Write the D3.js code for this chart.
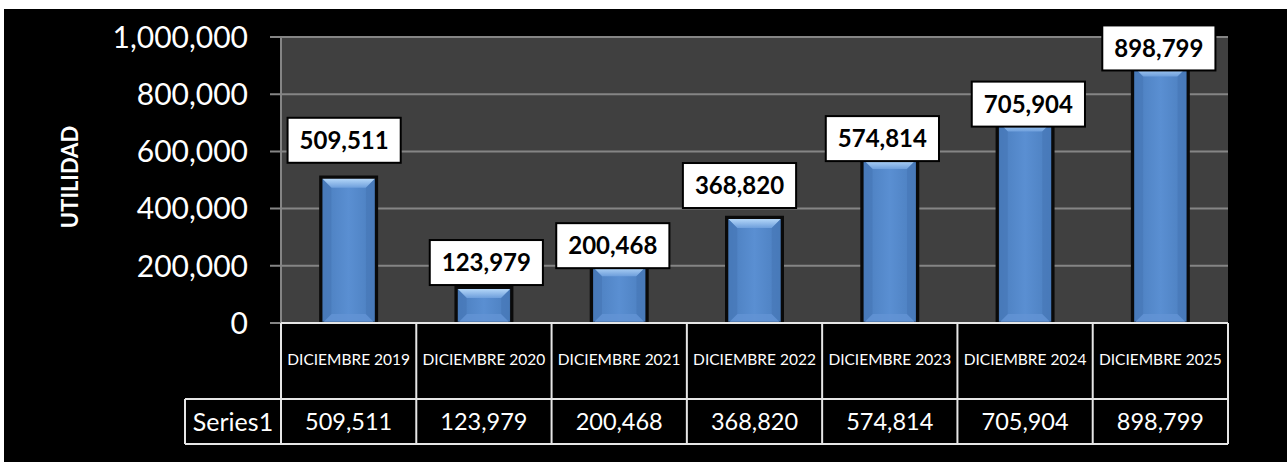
<!DOCTYPE html>
<html><head><meta charset="utf-8">
<script src="https://cdn.jsdelivr.net/npm/d3@7"></script>
<style>html,body{margin:0;padding:0;background:#fff;}svg{display:block;}</style>
</head><body>
<svg id="chart" width="1287" height="462"></svg>
<script>
// ---- data ----
const categories = ["DICIEMBRE 2019","DICIEMBRE 2020","DICIEMBRE 2021","DICIEMBRE 2022","DICIEMBRE 2023","DICIEMBRE 2024","DICIEMBRE 2025"];
const seriesName = "Series1";
const values = [509511, 123979, 200468, 368820, 574814, 705904, 898799];
const yTicks = [0, 200000, 400000, 600000, 800000, 1000000];
const yTitle = "UTILIDAD";

// ---- layout (not data) ----
const labelDx = [-4.5, 2.4, -6.4, -15, -7.4, 3.3, -1.5];
const labelDy = [-37, -25, -20, -32, -20, -17, -18];

const svg = d3.select("#chart");
const FONT = "Lato, 'Open Sans', sans-serif";
const L = 281, R = 1228, T = 37, B = 323;
const rowMid = 399, tableBottom = 444, seriesLeft = 185;

svg.append("rect").attr("x",4).attr("y",9).attr("width",1283).attr("height",453).attr("fill","#000");

const x = d3.scaleBand().domain(categories).range([L,R]).paddingInner(0.59).paddingOuter(0.295);
const col = d3.scaleBand().domain(categories).range([L,R]);
const y = d3.scaleLinear().domain([0,1000000]).range([B,T]);

svg.append("rect").attr("x",L).attr("y",T).attr("width",R-L).attr("height",B-T).attr("fill","#404040");

// gridlines
svg.append("g").selectAll("line").data(yTicks).join("line")
  .attr("x1",270).attr("x2",R).attr("y1",d=>y(d)).attr("y2",d=>y(d))
  .attr("stroke","#858585").attr("stroke-width",2);
svg.append("line").attr("x1",L).attr("x2",L).attr("y1",T).attr("y2",B).attr("stroke","#858585").attr("stroke-width",2);

// tick labels
const fmt = d3.format(",");
svg.append("g").selectAll("text").data(yTicks).join("text")
  .attr("x",248).attr("y",d=>y(d)).attr("dy","0.36em").attr("text-anchor","end")
  .attr("fill","#fff").attr("font-family",FONT).attr("font-size",30).text(d=>fmt(d));

// y title
svg.append("text").attr("transform","translate(78,177) rotate(-90)")
  .attr("text-anchor","middle").attr("fill","#fff").attr("font-family",FONT)
  .attr("font-weight","bold").attr("font-size",22).text(yTitle);

// gradients
const defs = svg.append("defs");
const gTop = defs.append("linearGradient").attr("id","gTop").attr("x1",0).attr("y1",0).attr("x2",0).attr("y2",1);
gTop.append("stop").attr("offset",0).attr("stop-color","#b3d6f8");
gTop.append("stop").attr("offset",1).attr("stop-color","#6e9fdc");
const gMain = defs.append("linearGradient").attr("id","gMain").attr("x1",0).attr("y1",0).attr("x2",1).attr("y2",0);
gMain.append("stop").attr("offset",0).attr("stop-color","#4a7dbd");
gMain.append("stop").attr("offset",0.5).attr("stop-color","#5a8fd2");
gMain.append("stop").attr("offset",1).attr("stop-color","#4a7dbd");

// bars
const bars = svg.append("g").selectAll("g").data(values).join("g");
bars.each(function(v,i){
  const g = d3.select(this);
  const x0 = x(categories[i]), w = x.bandwidth(), x1 = x0 + w;
  const y0 = y(v), yb = y(0);
  g.append("rect").attr("x",x0).attr("y",y0).attr("width",w).attr("height",yb-y0)
    .attr("fill","url(#gMain)").attr("stroke","#0a0a0a").attr("stroke-width",3.5);
  const b = Math.min(9, (yb-y0)/3);
  const ix0 = x0+1.5, ix1 = x1-1.5, iy0 = y0+1.5;
  g.append("polygon").attr("points",[[ix0,iy0],[ix1,iy0],[ix1-b,iy0+b],[ix0+b,iy0+b]].map(p=>p.join(",")).join(" "))
    .attr("fill","url(#gTop)");
  g.append("polygon").attr("points",[[ix0,yb],[ix1,yb],[ix1-b,yb-b],[ix0+b,yb-b]].map(p=>p.join(",")).join(" "))
    .attr("fill","#6394d4").attr("opacity",0.8);
  g.append("polygon").attr("points",[[ix0,iy0],[ix0+b,iy0+b],[ix0+b,yb-b],[ix0,yb]].map(p=>p.join(",")).join(" "))
    .attr("fill","#4677b6").attr("opacity",0.6);
  g.append("polygon").attr("points",[[ix1,iy0],[ix1-b,iy0+b],[ix1-b,yb-b],[ix1,yb]].map(p=>p.join(",")).join(" "))
    .attr("fill","#4677b6").attr("opacity",0.6);
});

// data table
const tbl = svg.append("g");
const lineAttr = s => s.attr("stroke","#e6e6e6").attr("stroke-width",2);
tbl.append("rect").attr("x",L).attr("y",B).attr("width",R-L).attr("height",tableBottom-B).attr("fill","#000");
tbl.append("rect").attr("x",seriesLeft).attr("y",rowMid).attr("width",L-seriesLeft).attr("height",tableBottom-rowMid).attr("fill","#000");
lineAttr(tbl.append("line").attr("x1",L).attr("x2",R).attr("y1",B).attr("y2",B));
lineAttr(tbl.append("line").attr("x1",seriesLeft).attr("x2",R).attr("y1",rowMid).attr("y2",rowMid));
lineAttr(tbl.append("line").attr("x1",seriesLeft).attr("x2",R).attr("y1",tableBottom).attr("y2",tableBottom));
lineAttr(tbl.append("line").attr("x1",seriesLeft).attr("x2",seriesLeft).attr("y1",rowMid).attr("y2",tableBottom));
const edges = categories.map(c=>col(c)).concat([R]);
tbl.selectAll("line.v").data(edges).join("line").attr("class","v")
  .attr("x1",d=>d).attr("x2",d=>d).attr("y1",B).attr("y2",tableBottom)
  .call(lineAttr);
tbl.selectAll("text.cat").data(categories).join("text").attr("class","cat")
  .attr("x",d=>col(d)+col.bandwidth()/2).attr("y",359).attr("dy","0.36em")
  .attr("text-anchor","middle").attr("fill","#fff").attr("font-family",FONT).attr("font-size",15.5)
  .text(d=>d);
tbl.selectAll("text.val").data(values).join("text").attr("class","val")
  .attr("x",(d,i)=>col(categories[i])+col.bandwidth()/2).attr("y",422).attr("dy","0.36em")
  .attr("text-anchor","middle").attr("fill","#fff").attr("font-family",FONT).attr("font-size",23.5)
  .text(d=>fmt(d));
tbl.append("text").attr("x",(seriesLeft+L)/2).attr("y",422).attr("dy","0.36em")
  .attr("text-anchor","middle").attr("fill","#fff").attr("font-family",FONT).attr("font-size",25)
  .text(seriesName);

// data labels
const lbl = svg.append("g").selectAll("g").data(values).join("g");
lbl.each(function(v,i){
  const g = d3.select(this);
  const cx = x(categories[i]) + x.bandwidth()/2 + labelDx[i];
  const cy = y(v) + labelDy[i];
  const rect = g.append("rect").attr("fill","#fff").attr("stroke","#000").attr("stroke-width",2);
  const t = g.append("text").attr("x",cx).attr("y",cy).attr("dy","0.36em").attr("text-anchor","middle")
    .attr("fill","#000").attr("font-family",FONT).attr("font-weight","bold").attr("font-size",24).text(fmt(v));
  const bb = t.node().getBBox();
  const w = bb.width + 24, h = 45;
  rect.attr("x",cx-w/2).attr("y",cy-h/2).attr("width",w).attr("height",h);
});
</script>
</body></html>
